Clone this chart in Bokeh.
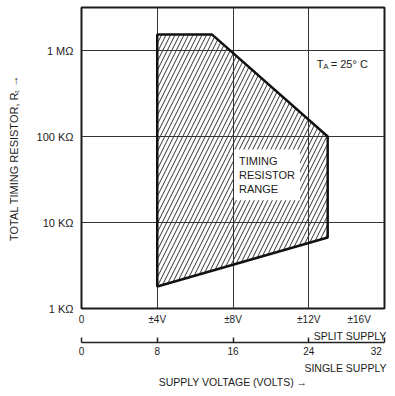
from bokeh.plotting import figure
from bokeh.models import (Range1d, LinearAxis, FixedTicker, Label, Title)
from bokeh.embed import file_html
from bokeh.resources import INLINE

# ---- data ----
NB = "\u00a0"
split_ticks = [0, 4, 8, 12, 16]
split_labels = ["0", "±4V", "±8V", "±12V", "±16V"]
single_ticks = [0, 8, 16, 24, 32]
single_labels = ["0", "8", "16", "24", "32"]
r_ticks = [1e3, 1e4, 1e5, 1e6]
r_labels = ["1 KΩ", "10 KΩ", "100 KΩ", "1 MΩ"]

# timing resistor range polygon (split supply volts, ohms)
region_v = [4, 4, 6.9, 13, 13]
region_r = [1.8e3, 1.53e6, 1.53e6, 1.0e5, 6.7e3]

FONT = "Liberation Sans"
TXT = "#1c1c1c"

p = figure(width=387, height=388, output_backend="svg", toolbar_location=None,
           x_range=Range1d(0, 16), y_range=Range1d(1e3, 10 ** 6.5),
           y_axis_type="log",
           min_border_left=81, min_border_right=3, min_border_top=7,
           min_border_bottom=80, background_fill_color="white",
           border_fill_color="white")
p.outline_line_color = "#1a1a1a"
p.outline_line_width = 2

# grid
p.xgrid.ticker = FixedTicker(ticks=[4, 8, 12])
p.ygrid.ticker = FixedTicker(ticks=[1e4, 1e5, 1e6])
for g in (p.xgrid[0], p.ygrid[0]):
    g.grid_line_color = "#333333"
    g.grid_line_width = 1
    g.grid_line_alpha = 1

# hatched region
p.patch(region_v, region_r, fill_color=None, hatch_pattern="/",
        hatch_color="#333333", hatch_weight=1, hatch_scale=9,
        line_color="#111111", line_width=2.5)

# edge tick labels padded so they stay inside the canvas
split_text = list(split_labels)
split_text[-1] = split_labels[-1] + NB * 6
single_text = list(single_labels)
single_text[-1] = single_labels[-1] + NB * 2

# primary x axis (split supply)
xa = p.xaxis[0]
xa.ticker = FixedTicker(ticks=split_ticks)
xa.major_label_overrides = dict(zip(split_ticks, split_text))
xa.axis_line_color = None
xa.major_tick_line_color = None
xa.major_tick_out = 0
xa.major_tick_in = 0
xa.minor_tick_line_color = None
xa.minor_tick_out = 0
xa.major_label_standoff = 5
xa.major_label_text_font = FONT
xa.major_label_text_font_size = "10px"
xa.major_label_text_color = TXT

def title(text, align, offset, standoff=0):
    return Title(text=text, align=align, offset=offset, standoff=standoff,
                 text_font=FONT, text_font_size="10.5px",
                 text_font_style="normal", text_color=TXT)

p.add_layout(title("SPLIT SUPPLY", "right", -2, 1), "below")

# secondary x axis (single supply)
p.extra_x_ranges = {"single": Range1d(0, 32)}
xb = LinearAxis(x_range_name="single")
xb.ticker = FixedTicker(ticks=single_ticks)
xb.major_label_overrides = dict(zip(single_ticks, single_text))
xb.axis_line_color = "#222222"
xb.axis_line_width = 1.5
xb.major_tick_line_color = "#222222"
xb.major_tick_line_width = 1.5
xb.major_tick_in = 5
xb.major_tick_out = 0
xb.minor_tick_line_color = None
xb.minor_tick_out = 0
xb.major_label_standoff = 3
xb.major_label_text_font = FONT
xb.major_label_text_font_size = "10px"
xb.major_label_text_color = TXT
p.add_layout(xb, "below")

p.add_layout(title("SINGLE SUPPLY", "right", -2), "below")
p.add_layout(title("SUPPLY VOLTAGE (VOLTS) →", "center", -7), "below")

# y axis
ya = p.yaxis[0]
ya.ticker = FixedTicker(ticks=r_ticks)
ya.major_label_overrides = dict(zip(r_ticks, r_labels))
ya.axis_line_color = None
ya.major_tick_line_color = None
ya.major_tick_out = 0
ya.major_tick_in = 0
ya.minor_tick_line_color = None
ya.minor_tick_out = 0
ya.major_label_standoff = 8
ya.major_label_text_font = FONT
ya.major_label_text_font_size = "11px"
ya.major_label_text_color = TXT
ya.axis_label = "TOTAL TIMING RESISTOR, Rₜ →"
ya.axis_label_standoff = 14
ya.axis_label_text_font = FONT
ya.axis_label_text_font_size = "11px"
ya.axis_label_text_font_style = "normal"
ya.axis_label_text_color = TXT

# annotations
p.add_layout(Label(x=8, y=1e5, x_offset=1, y_offset=-13,
                   text="TIMING\nRESISTOR\nRANGE", text_align="left",
                   text_baseline="top", text_font=FONT, text_font_size="11px",
                   text_color=TXT, background_fill_color="white", padding=5))
p.add_layout(Label(x=12, y=1e6, x_offset=8, y_offset=-13, text="T",
                   text_baseline="alphabetic", text_font=FONT,
                   text_font_size="11px", text_color=TXT))
p.add_layout(Label(x=12, y=1e6, x_offset=14.5, y_offset=-16, text="A",
                   text_baseline="alphabetic", text_font=FONT,
                   text_font_size="8px", text_color=TXT))
p.add_layout(Label(x=12, y=1e6, x_offset=22, y_offset=-13, text="= 25° C",
                   text_baseline="alphabetic", text_font=FONT,
                   text_font_size="11px", text_color=TXT))

open("out.html", "w").write(file_html(p, INLINE))
